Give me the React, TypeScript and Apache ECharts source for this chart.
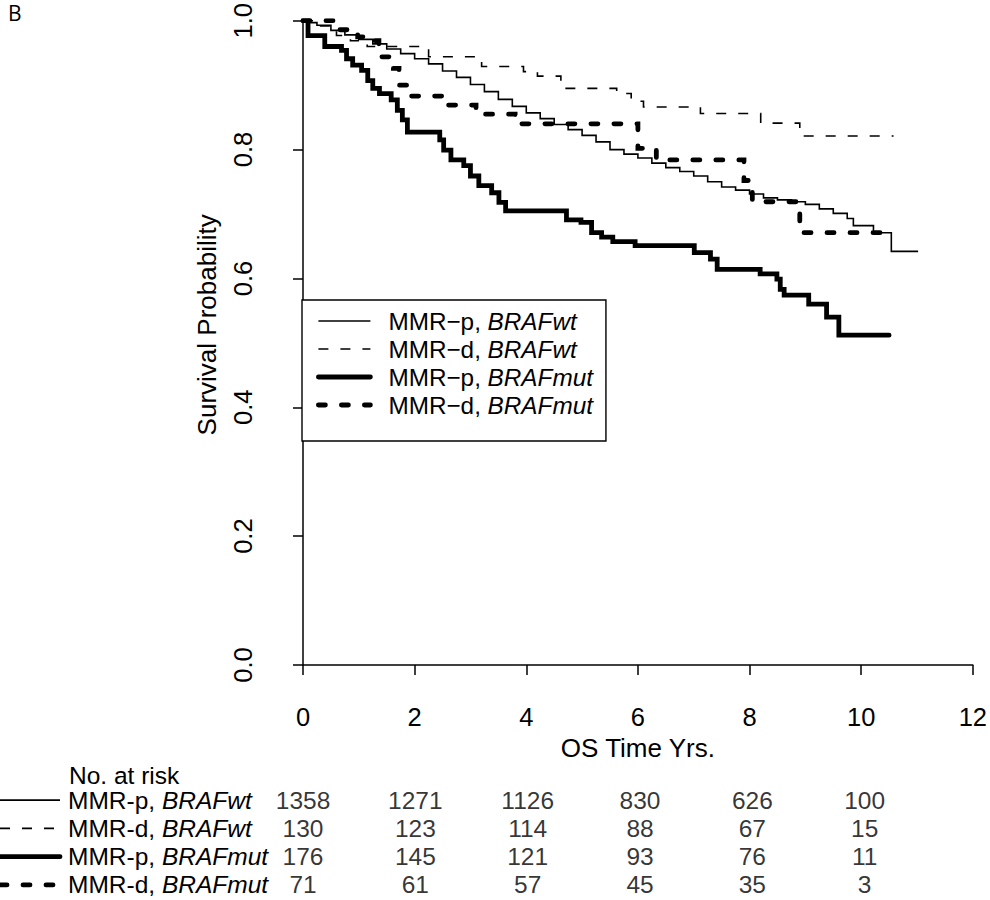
import React, { useEffect, useRef } from "react";
import * as echarts from "echarts";

const FONT = '"Liberation Sans", Arial, Helvetica, sans-serif';

// Legend / series names (legend uses the minus sign)
const seriesNames = ["MMR−p, BRAFwt", "MMR−d, BRAFwt", "MMR−p, BRAFmut", "MMR−d, BRAFmut"];
// Risk-table row labels (hyphen)
const tableLabels = ["MMR-p, BRAFwt", "MMR-d, BRAFwt", "MMR-p, BRAFmut", "MMR-d, BRAFmut"];

// MMR-p, BRAFwt (thin solid)
const pWtTime = [0, 0.1, 0.25, 0.5, 0.75, 1.0, 1.25, 1.5, 1.75, 2.0, 2.25, 2.5, 2.75, 3.0, 3.25, 3.5, 3.75, 4.0, 4.25, 4.5, 4.75, 5.0, 5.25, 5.5, 5.75, 6.0, 6.25, 6.5, 6.75, 7.0, 7.25, 7.5, 7.75, 8.0, 8.25, 8.5, 8.75, 9.0, 9.25, 9.5, 9.75, 9.86, 10.22, 10.54, 11.02];
const pWtSurv = [1.0, 0.997, 0.993, 0.985, 0.978, 0.971, 0.964, 0.956, 0.949, 0.941, 0.933, 0.922, 0.912, 0.901, 0.89, 0.878, 0.867, 0.857, 0.848, 0.839, 0.831, 0.822, 0.812, 0.8, 0.793, 0.787, 0.779, 0.772, 0.766, 0.759, 0.75, 0.742, 0.737, 0.731, 0.725, 0.722, 0.719, 0.715, 0.708, 0.701, 0.693, 0.682, 0.671, 0.642, 0.642];

// MMR-d, BRAFwt (thin dashed)
const dWtTime = [0, 0.3, 0.6, 0.85, 1.15, 2.25, 3.2, 3.95, 4.2, 4.62, 5.62, 5.88, 6.1, 7.12, 8.2, 8.9, 10.58];
const dWtSurv = [1.0, 0.992, 0.977, 0.969, 0.96, 0.944, 0.929, 0.921, 0.914, 0.895, 0.887, 0.875, 0.866, 0.856, 0.841, 0.821, 0.821];

// MMR-p, BRAFmut (thick solid)
const pMutTime = [0, 0.09, 0.39, 0.69, 0.78, 0.89, 1.05, 1.16, 1.25, 1.37, 1.58, 1.69, 1.78, 1.87, 2.45, 2.52, 2.65, 2.88, 3.0, 3.15, 3.38, 3.51, 3.63, 4.72, 4.98, 5.17, 5.35, 5.55, 5.95, 7.01, 7.3, 7.42, 8.19, 8.49, 8.55, 8.62, 9.06, 9.38, 9.6, 10.5];
const pMutSurv = [1.0, 0.977, 0.96, 0.954, 0.941, 0.931, 0.923, 0.907, 0.895, 0.887, 0.877, 0.861, 0.846, 0.827, 0.815, 0.799, 0.784, 0.775, 0.759, 0.744, 0.733, 0.718, 0.705, 0.691, 0.687, 0.671, 0.664, 0.657, 0.651, 0.64, 0.63, 0.614, 0.607, 0.599, 0.583, 0.574, 0.56, 0.54, 0.512, 0.512];

// MMR-d, BRAFmut (thick dashed)
const dMutTime = [0, 0.57, 0.98, 1.28, 1.36, 1.62, 1.72, 1.9, 2.5, 3.1, 3.8, 6.0, 6.33, 7.9, 8.05, 8.9, 10.4];
const dMutSurv = [1.0, 0.986, 0.975, 0.969, 0.944, 0.926, 0.9, 0.883, 0.869, 0.855, 0.84, 0.802, 0.784, 0.752, 0.719, 0.671, 0.671];

// Number at risk
const riskTimes = [0, 2, 4, 6, 8, 10];
const riskPWt = [1358, 1271, 1126, 830, 626, 100];
const riskDWt = [130, 123, 114, 88, 67, 15];
const riskPMut = [176, 145, 121, 93, 76, 11];
const riskDMut = [71, 61, 57, 45, 35, 3];

const lineStyles = [
  { width: 1.6, type: "solid" as any, cap: "butt" },
  { width: 1.6, type: [10, 12] as any, cap: "butt" },
  { width: 4.8, type: "solid" as any, cap: "round" },
  { width: 4.8, type: [7, 16] as any, cap: "round" },
];

function splitName(name: string) {
  const idx = name.indexOf(", ");
  return [name.slice(0, idx + 2), name.slice(idx + 2)];
}

export default function App() {
  const ref = useRef<HTMLDivElement>(null);
  useEffect(() => {
    const chart = echarts.init(ref.current!, null, { renderer: "svg" });
    const curves = [
      [pWtTime, pWtSurv],
      [dWtTime, dWtSurv],
      [pMutTime, pMutSurv],
      [dMutTime, dMutSurv],
    ];
    const risks = [riskPWt, riskDWt, riskPMut, riskDMut];
    const riskData: any[] = [];
    risks.forEach((row, r) => row.forEach((n, i) => riskData.push([riskTimes[i], r, n])));

    const lineSeries = curves.map(([t, s], k) => ({
      type: "line",
      name: seriesNames[k],
      xAxisIndex: 0,
      yAxisIndex: 0,
      step: "end",
      symbol: "none",
      showSymbol: false,
      data: t.map((x, i) => [x, s[i]]),
      lineStyle: { color: "#000", width: lineStyles[k].width, type: lineStyles[k].type, cap: lineStyles[k].cap, join: "miter" },
      itemStyle: { color: "#000" },
      z: 3 + k,
    }));

    const axisLineStyle = { color: "#000", width: 1.5 };
    const richRow = {
      n: { fontSize: 24.5, fontFamily: FONT, color: "#000" },
      i: { fontSize: 24.5, fontFamily: FONT, color: "#000", fontStyle: "italic" },
    };

    const option: any = {
      animation: false,
      textStyle: { fontFamily: FONT, color: "#000" },
      grid: [
        { left: 303, right: 13, top: 17, bottom: 235 },
        { left: 303, right: 13, top: 786, height: 113 },
      ],
      xAxis: [
        {
          gridIndex: 0,
          type: "value",
          min: 0,
          max: 12,
          interval: 2,
          offset: 18,
          name: "OS Time Yrs.",
          nameLocation: "middle",
          nameGap: 48,
          nameTextStyle: { fontSize: 26, color: "#000", fontFamily: FONT },
          axisLine: { show: true, lineStyle: axisLineStyle },
          axisTick: { show: true, length: 10, lineStyle: axisLineStyle },
          axisLabel: { fontSize: 25.5, color: "#000", margin: 21, fontFamily: FONT },
          splitLine: { show: false },
        },
        { gridIndex: 1, type: "value", min: 0, max: 12, show: false },
      ],
      yAxis: [
        {
          gridIndex: 0,
          type: "value",
          min: 0,
          max: 1,
          interval: 0.2,
          offset: 27,
          name: "Survival Probability",
          nameLocation: "middle",
          nameGap: 56,
          nameTextStyle: { fontSize: 26, color: "#000", fontFamily: FONT, padding: [0, 0, 0, 36] },
          axisLine: { show: true, lineStyle: axisLineStyle },
          axisTick: { show: true, length: 10, lineStyle: axisLineStyle },
          axisLabel: {
            rotate: 90,
            margin: 20,
            fontSize: 25.5,
            color: "#000",
            fontFamily: FONT,
            formatter: (v: number) => v.toFixed(1),
          },
          splitLine: { show: false },
        },
        {
          gridIndex: 1,
          type: "category",
          inverse: true,
          data: tableLabels,
          axisLine: { show: false },
          axisTick: { show: false },
          splitLine: { show: false },
          axisLabel: {
            show: true,
            align: "left",
            margin: 235,
            formatter: (v: string) => {
              const [a, b] = splitName(v);
              return `{n|${a}}{i|${b}}`;
            },
            rich: richRow,
          },
        },
      ],
      legend: {
        show: true,
        orient: "vertical",
        left: 302,
        top: 300,
        padding: [9, 13, 24, 14],
        itemGap: 4,
        itemWidth: 52,
        itemHeight: 25,
        borderColor: "#000",
        borderWidth: 1.4,
        borderRadius: 0,
        backgroundColor: "#fff",
        selectedMode: false,
        data: seriesNames,
        itemStyle: { color: "rgba(0,0,0,0)", opacity: 0, borderWidth: 0 },
        lineStyle: { width: "inherit", type: "inherit", cap: "inherit", color: "#000", opacity: 1 },
        formatter: (name: string) => {
          const [a, b] = splitName(name);
          return `{n|${a}}{i|${b}}`;
        },
        textStyle: {
          fontSize: 24.3,
          color: "#000",
          fontFamily: FONT,
          padding: [0, 0, 0, 13],
          rich: {
            n: { fontSize: 24.3, fontFamily: FONT, color: "#000" },
            i: { fontSize: 24.3, fontFamily: FONT, color: "#000", fontStyle: "italic" },
          },
        },
      },
      series: [
        ...lineSeries,
        {
          type: "scatter",
          name: "risk",
          xAxisIndex: 1,
          yAxisIndex: 1,
          symbolSize: 1,
          itemStyle: { color: "rgba(0,0,0,0)" },
          data: riskData,
          label: {
            show: true,
            position: "inside",
            formatter: (p: any) => String(p.value[2]),
            fontSize: 24.5,
            color: "#000",
            fontFamily: FONT,
          },
        },
      ],
    };
    chart.setOption(option);

    const graphics: any[] = [
      {
        id: "B",
        type: "text",
        x: 8,
        y: 13,
        style: { text: "B", fontSize: 21, fontFamily: "Open Sans", fill: "#000", verticalAlign: "middle" },
      },
      {
        id: "risk-title",
        type: "text",
        x: 69,
        y: 775,
        style: { text: "No. at risk", fontSize: 24.5, fontFamily: FONT, fill: "#000", verticalAlign: "middle" },
      },
    ];
    tableLabels.forEach((lab, i) => {
      const y = chart.convertToPixel({ yAxisIndex: 1 } as any, i as any) as unknown as number;
      graphics.push({
        id: "rowline" + i,
        type: "line",
        shape: { x1: 0, y1: y, x2: 60, y2: y },
        style: {
          stroke: "#000",
          lineWidth: lineStyles[i].width,
          lineDash: Array.isArray(lineStyles[i].type) ? lineStyles[i].type : null,
          lineCap: lineStyles[i].cap,
        },
      });
    });
    chart.setOption({ graphic: graphics });

    return () => chart.dispose();
  }, []);
  return (
    <div
      ref={ref}
      style={{ position: "absolute", left: 0, top: 0, width: 990, height: 900, background: "#fff" }}
    />
  );
}
